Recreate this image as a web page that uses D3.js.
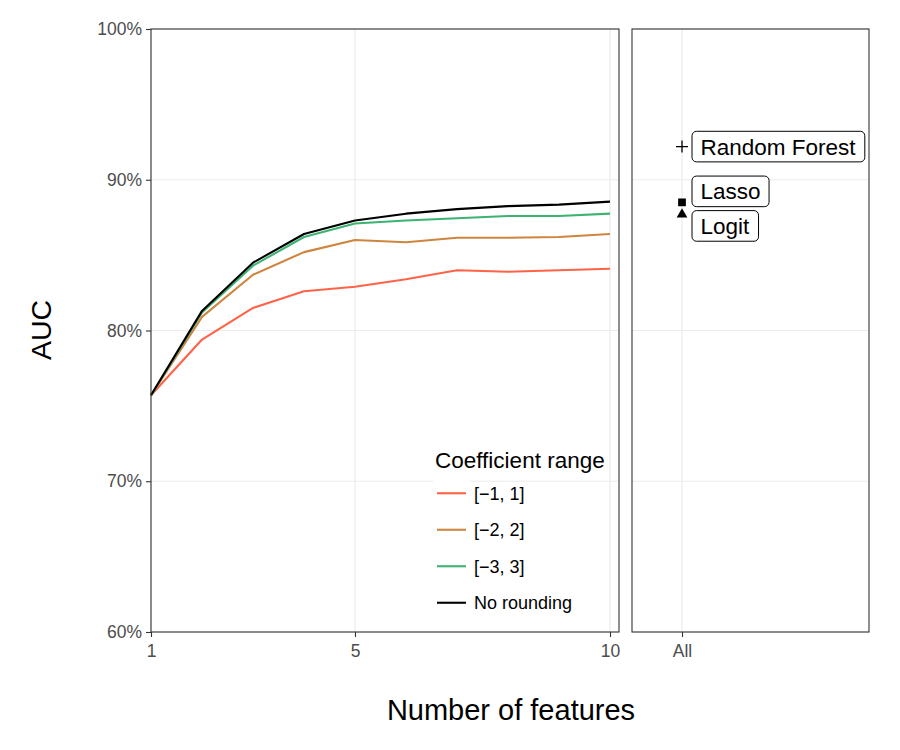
<!DOCTYPE html>
<html><head><meta charset="utf-8">
<script src="https://cdn.jsdelivr.net/npm/d3@7"></script>
<style>body{margin:0;background:#fff}svg text{font-family:"Liberation Sans",Arial,sans-serif}</style>
</head><body><svg id="c" width="900" height="750"></svg>
<script>
// ---- data ----
const features = [1,2,3,4,5,6,7,8,9,10];
const seriesNames = ["[\u22121, 1]","[\u22122, 2]","[\u22123, 3]","No rounding"];
const seriesColors = ["#FF6347","#CD853F","#3CB371","#000000"];
const auc_r1 = [75.7,79.4,81.5,82.6,82.9,83.4,84.0,83.9,84.0,84.1];
const auc_r2 = [75.7,80.9,83.7,85.2,86.0,85.85,86.15,86.15,86.2,86.4];
const auc_r3 = [75.7,81.2,84.3,86.2,87.1,87.3,87.45,87.6,87.6,87.75];
const auc_none = [75.7,81.3,84.5,86.4,87.3,87.75,88.05,88.25,88.35,88.55];
const models = ["Random Forest","Lasso","Logit"];
const modelAUC = [92.2,88.5,87.7];
const yTicks = [60,70,80,90,100];
const xTicks = [1,5,10];

const svg = d3.select("#c");
const pTop = 29, pBottom = 632;
const y = d3.scaleLinear().domain([60,100]).range([pBottom, pTop]);
const x = d3.scaleLinear().domain([1,10]).range([151,610]);
const pL = {x0:151, x1:619};
const pR = {x0:632, x1:869};
const xr = d3.scalePoint().domain(["All"]).range([632,732]).padding(0.5);
const grid = "#ebebeb";

// grids
function panelGrid(p, vx){
  const g = svg.append("g");
  g.selectAll("line.h").data(yTicks).join("line")
    .attr("x1",p.x0).attr("x2",p.x1).attr("y1",d=>y(d)).attr("y2",d=>y(d))
    .attr("stroke",grid).attr("stroke-width",1.2);
  g.selectAll("line.v").data(vx).join("line")
    .attr("x1",d=>d).attr("x2",d=>d).attr("y1",pTop).attr("y2",pBottom)
    .attr("stroke",grid).attr("stroke-width",1.2);
}
panelGrid(pL, xTicks.map(x));
panelGrid(pR, [xr("All")]);

// legend key backgrounds (white, covering grid)
const legX = 433, legY0 = 475, keyH = 36.5;
svg.append("g").selectAll("rect").data(seriesNames).join("rect")
  .attr("x",legX).attr("y",(d,i)=>legY0+i*keyH).attr("width",37).attr("height",keyH)
  .attr("fill","#fff");

// lines
const allSeries = [auc_r1,auc_r2,auc_r3,auc_none];
const line = d3.line().x((d,i)=>x(features[i])).y(d=>y(d));
svg.append("g").selectAll("path").data(allSeries).join("path")
  .attr("d",line).attr("fill","none")
  .attr("stroke",(d,i)=>seriesColors[i]).attr("stroke-width",2.1)
  .attr("stroke-linejoin","round");

// panel borders
[pL,pR].forEach(p=>{
  svg.append("rect").attr("x",p.x0).attr("y",pTop).attr("width",p.x1-p.x0).attr("height",pBottom-pTop)
    .attr("fill","none").attr("stroke","#333").attr("stroke-width",1.1);
});

// axes
const yAxis = svg.append("g").attr("transform",`translate(${pL.x0},0)`)
  .call(d3.axisLeft(y).tickValues(yTicks).tickFormat(d=>d+"%").tickSizeOuter(0).tickSize(5).tickPadding(4));
const xAxis = svg.append("g").attr("transform",`translate(0,${pBottom})`)
  .call(d3.axisBottom(x).tickValues(xTicks).tickSizeOuter(0).tickSize(5).tickPadding(7.5));
const xAxisR = svg.append("g").attr("transform",`translate(0,${pBottom})`)
  .call(d3.axisBottom(xr).tickSizeOuter(0).tickSize(5).tickPadding(7.5));
[yAxis,xAxis,xAxisR].forEach(a=>{
  a.select(".domain").remove();
  a.selectAll(".tick line").attr("stroke","#333").attr("stroke-width",1.1);
  a.selectAll(".tick text").attr("fill","#4d4d4d").style("font-size","17.5px");
});

// axis titles
svg.append("text").attr("x",511).attr("y",720).attr("text-anchor","middle")
  .style("font-size","29px").attr("fill","#000").text("Number of features");
svg.append("text").attr("transform","translate(50.5,330) rotate(-90)").attr("text-anchor","middle")
  .style("font-size","28.5px").attr("fill","#000").text("AUC");

// legend
svg.append("text").attr("x",435).attr("y",468).style("font-size","22.5px").text("Coefficient range");
const lg = svg.append("g");
seriesNames.forEach((n,i)=>{
  const cy = legY0 + i*keyH + keyH/2;
  lg.append("line").attr("x1",legX+4).attr("x2",legX+33).attr("y1",cy).attr("y2",cy)
    .attr("stroke",seriesColors[i]).attr("stroke-width",2.1);
  lg.append("text").attr("x",474).attr("y",cy).attr("dy","0.35em")
    .style("font-size","18px").text(n);
});

// right panel points
const ax = xr("All");
models.forEach((m,i)=>{
  const py = y(modelAUC[i]);
  if(i===0){
    svg.append("path").attr("d",`M${ax-6},${py}H${ax+6}M${ax},${py-6}V${py+6}`)
      .attr("stroke","#000").attr("stroke-width",1.3).attr("fill","none");
  } else if(i===1){
    svg.append("path").attr("d",d3.symbol().type(d3.symbolSquare).size(60)())
      .attr("transform",`translate(${ax},${py})`).attr("fill","#000");
  } else {
    svg.append("path").attr("d",d3.symbol().type(d3.symbolTriangle).size(50)())
      .attr("transform",`translate(${ax},${py})`).attr("fill","#000");
  }
});

// labels (repelled)
const nudge = [0,-11,11.5];
models.forEach((m,i)=>{
  const cy = y(modelAUC[i]) + nudge[i];
  const g = svg.append("g");
  const t = g.append("text").attr("x",ax+18.5).attr("y",cy).attr("dy","0.36em")
    .style("font-size","22.5px").text(m);
  const bb = t.node().getBBox();
  g.insert("rect","text").attr("x",ax+10).attr("y",cy-15.3)
    .attr("width",bb.width+17).attr("height",30.6).attr("rx",4.5).attr("ry",4.5)
    .attr("fill","#fff").attr("stroke","#000").attr("stroke-width",1);
});
</script></body></html>
